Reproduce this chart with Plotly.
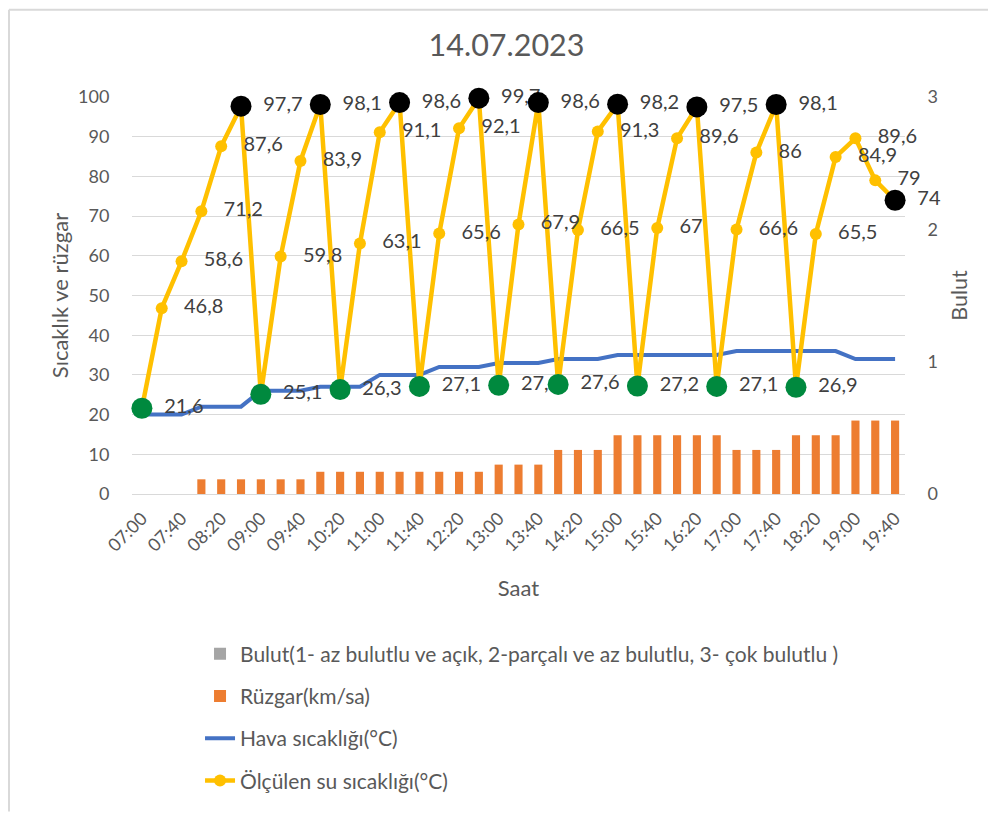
import plotly.graph_objects as go

# 20-minute measurement times
saat = ["07:00", "07:20", "07:40", "08:00", "08:20", "08:40", "09:00", "09:20", "09:40", "10:00",
        "10:20", "10:40", "11:00", "11:20", "11:40", "12:00", "12:20", "12:40", "13:00", "13:20",
        "13:40", "14:00", "14:20", "14:40", "15:00", "15:20", "15:40", "16:00", "16:20", "16:40",
        "17:00", "17:20", "17:40", "18:00", "18:20", "18:40", "19:00", "19:20", "19:40"]

su_sicakligi = [21.6, 46.8, 58.6, 71.2, 87.6, 97.7, 25.1, 59.8, 83.9, 98.1,
                26.3, 63.1, 91.1, 98.6, 27.1, 65.6, 92.1, 99.7, 27.4, 67.9,
                98.6, 27.6, 66.5, 91.3, 98.2, 27.2, 67, 89.6, 97.5, 27.1,
                66.6, 86, 98.1, 26.9, 65.5, 84.9, 89.6, 79, 74]

hava_sicakligi = [20, 20, 20, 22, 22, 22, 26, 26, 26, 27,
                  27, 27, 30, 30, 30, 32, 32, 32, 33, 33,
                  33, 34, 34, 34, 35, 35, 35, 35, 35, 35,
                  36, 36, 36, 36, 36, 36, 34, 34, 34]

ruzgar = [0, 0, 0, 3.7, 3.7, 3.7, 3.7, 3.7, 3.7, 5.6,
          5.6, 5.6, 5.6, 5.6, 5.6, 5.6, 5.6, 5.6, 7.4, 7.4,
          7.4, 11.1, 11.1, 11.1, 14.8, 14.8, 14.8, 14.8, 14.8, 14.8,
          11.1, 11.1, 11.1, 14.8, 14.8, 14.8, 18.5, 18.5, 18.5]

bulut = [0, 0, 0, 0, 0, 0, 0, 0, 0, 0,
         0, 0, 0, 0, 0, 0, 0, 0, 0, 0,
         0, 0, 0, 0, 0, 0, 0, 0, 0, 0,
         0, 0, 0, 0, 0, 0, 0, 0, 0]

tick_saat = saat[::2]

# lowest reading of each profile (green) and the top one just before it (black)
dip = [i for i, v in enumerate(su_sicakligi) if v < 30]
tepe = [i - 1 for i in dip if i > 0] + [len(su_sicakligi) - 1]

etiket = [f"{v:g}".replace(".", ",") for v in su_sicakligi]

fig = go.Figure()
fig.add_trace(go.Bar(x=saat, y=bulut, yaxis="y2", marker_color="#A5A5A5", marker_line_width=0,
                     legendgroup="a",
                     name="Bulut(1- az bulutlu ve açık, 2-parçalı ve az bulutlu, 3- çok bulutlu )"))
fig.add_trace(go.Bar(x=saat, y=ruzgar, marker_color="#ED7D31", marker_line_width=0,
                     legendgroup="b", name="Rüzgar(km/sa)"))
fig.add_trace(go.Scatter(x=saat, y=hava_sicakligi, mode="lines", legendgroup="c",
                         line=dict(color="#4472C4", width=4), name="Hava sıcaklığı(°C)"))
fig.add_trace(go.Scatter(x=saat, y=su_sicakligi, mode="lines+markers", legendgroup="d",
                         line=dict(color="#FFC000", width=4.5),
                         marker=dict(size=12, color="#FFC000"), cliponaxis=False,
                         name="Ölçülen su sıcaklığı(°C)"))
# data labels, pushed right of the point like in Excel
fig.add_trace(go.Scatter(x=saat, y=su_sicakligi, mode="markers+text", text=etiket,
                         textposition="middle right",
                         textfont=dict(size=20, color="#404040"),
                         marker=dict(size=34, color="rgba(0,0,0,0)"), cliponaxis=False,
                         showlegend=False, hoverinfo="skip"))
fig.add_trace(go.Scatter(x=[saat[i] for i in dip], y=[su_sicakligi[i] for i in dip],
                         mode="markers", marker=dict(size=21, color="#00893E"), cliponaxis=False,
                         showlegend=False, hoverinfo="skip"))
fig.add_trace(go.Scatter(x=[saat[i] for i in tepe], y=[su_sicakligi[i] for i in tepe],
                         mode="markers", marker=dict(size=21, color="black"), cliponaxis=False,
                         showlegend=False, hoverinfo="skip"))

# page body has an 8px margin, so the figure is drawn 8px smaller and offset
fig.update_layout(
    width=988, height=806,
    margin=dict(l=124, r=91, t=89, b=317),
    paper_bgcolor="white", plot_bgcolor="white",
    font=dict(family="Lato, Carlito, sans-serif", size=18, color="#595959"),
    title=dict(text="14.07.2023", xref="container", x=0.5046, xanchor="center",
               yref="container", y=1 - 37 / 806, yanchor="middle",
               font=dict(size=30.5, color="#595959")),
    barmode="overlay", bargap=0.59,
    showlegend=True,
    legend=dict(x=0.088, y=-0.3515, xanchor="left", yanchor="top",
                traceorder="grouped", tracegroupgap=12,
                font=dict(size=21, color="#595959")),
    xaxis=dict(type="category", range=[-0.5, 38.5], tickmode="array",
               tickvals=tick_saat, ticktext=tick_saat, tickangle=-45,
               showgrid=False, showline=False, zeroline=False, automargin=False,
               ticks="outside", ticklen=6, tickcolor="rgba(0,0,0,0)",
               title=dict(text="Saat", standoff=26, font=dict(size=22))),
    yaxis=dict(range=[0, 100], dtick=10, gridcolor="#D9D9D9", gridwidth=1,
               zeroline=True, zerolinecolor="#D9D9D9", zerolinewidth=1,
               showline=False, automargin=False,
               ticks="outside", ticklen=18, tickcolor="rgba(0,0,0,0)",
               title=dict(text="Sıcaklık ve rüzgar", standoff=3, font=dict(size=22))),
    yaxis2=dict(range=[0, 3], dtick=1, overlaying="y", side="right",
                showgrid=False, zeroline=False, showline=False, automargin=False,
                ticks="outside", ticklen=18, tickcolor="rgba(0,0,0,0)",
                title=dict(text="Bulut", standoff=14, font=dict(size=21.5))),
    shapes=[
        dict(type="line", xref="paper", yref="paper", x0=-0.1591, x1=1.12, y0=1.22, y1=1.22,
             line=dict(color="#D9D9D9", width=2)),
        dict(type="line", xref="paper", yref="paper", x0=-0.1591, x1=-0.1591, y0=1.22, y1=-0.8,
             line=dict(color="#D9D9D9", width=2)),
    ],
)

fig.write_html("out.html")
